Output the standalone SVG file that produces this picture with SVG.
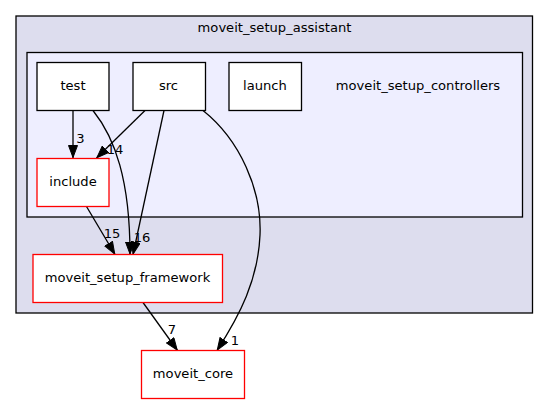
<svg xmlns="http://www.w3.org/2000/svg" width="549" height="404" viewBox="0 0 549 404">
<style>
text{font-family:"DejaVu Sans",sans-serif;font-size:13.1px;fill:#000;text-anchor:middle}
.n{fill:#fff;stroke:#000;stroke-width:1.3}
.r{fill:#fff;stroke:#ff0000;stroke-width:1.3}
.c{stroke:#000;stroke-width:1.3}
.e{fill:none;stroke:#000;stroke-width:1.3}
</style>
<defs>
<marker id="a" viewBox="0 0 13 10" refX="13" refY="5" markerWidth="13" markerHeight="10" markerUnits="userSpaceOnUse" orient="auto">
<path d="M0.5,0.5 L12.5,5 L0.5,9.5 Z" fill="#000" stroke="#000"/>
</marker>
</defs>
<rect width="549" height="404" fill="#fff"/>
<g id="cluster_assistant">
<rect class="c" x="16" y="16" width="516.5" height="297" fill="#ddddee"/>
<text x="274.5" y="32">moveit_setup_assistant</text>
</g>
<g id="cluster_controllers">
<rect class="c" x="27" y="52.5" width="495.5" height="164.5" fill="#eeeeff"/>
<text x="418" y="90">moveit_setup_controllers</text>
</g>
<g id="edges">
<path class="e" marker-end="url(#a)" d="M73,110.5 L73,158"/>
<text x="80.5" y="143">3</text>
<path class="e" marker-end="url(#a)" d="M145,110.5 L96.5,158"/>
<text x="115" y="154">14</text>
<path class="e" marker-end="url(#a)" d="M93,110.5 C115,138 130,180 130,254.5"/>
<path class="e" marker-end="url(#a)" d="M164,110.5 L133,254.5"/>
<text x="142" y="242">16</text>
<path class="e" marker-end="url(#a)" d="M86.5,206.5 L115,254.5"/>
<text x="112" y="237.5">15</text>
<path class="e" marker-end="url(#a)" d="M143,302.5 L177.5,350.5"/>
<text x="172" y="334">7</text>
<path class="e" marker-end="url(#a)" d="M203,110.5 C240,140 262,190 260,235 C258,280 240,315 217,350.5"/>
<text x="235" y="345">1</text>
</g>
<g id="node_test">
<rect class="n" x="37" y="62.5" width="72" height="48"/>
<text x="73" y="90">test</text>
</g>
<g id="node_src">
<rect class="n" x="133" y="62.5" width="72.5" height="48"/>
<text x="168.5" y="90">src</text>
</g>
<g id="node_launch">
<rect class="n" x="229" y="62.5" width="72.5" height="48"/>
<text x="265" y="90">launch</text>
</g>
<g id="node_include">
<rect class="r" x="37" y="158.5" width="72" height="48"/>
<text x="73" y="186">include</text>
</g>
<g id="node_framework">
<rect class="r" x="33" y="254.5" width="189.5" height="48"/>
<text x="127.5" y="282">moveit_setup_framework</text>
</g>
<g id="node_core">
<rect class="r" x="141.5" y="350.5" width="103" height="48"/>
<text x="193" y="378">moveit_core</text>
</g>
</svg>
